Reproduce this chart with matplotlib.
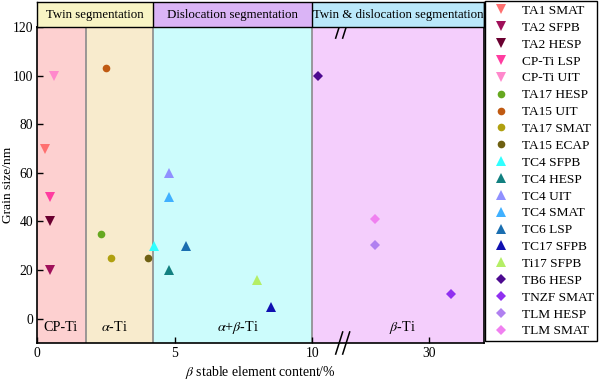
import numpy as np
import matplotlib
matplotlib.use("Agg")
import matplotlib.pyplot as plt
import matplotlib.transforms as mtransforms

plt.rcParams['font.family'] = ['Liberation Serif', 'DejaVu Serif']
plt.rcParams['mathtext.fontset'] = 'stix'
plt.rcParams['font.size'] = 9.3

# data: (label, marker, colour, x = beta stable element content %, y = grain size nm)
labels = ['TA1 SMAT', 'TA2 SFPB', 'TA2 HESP', 'CP-Ti LSP', 'CP-Ti UIT',
          'TA17 HESP', 'TA15 UIT', 'TA17 SMAT', 'TA15 ECAP',
          'TC4 SFPB', 'TC4 HESP', 'TC4 UIT', 'TC4 SMAT', 'TC6 LSP', 'TC17 SFPB', 'Ti17 SFPB',
          'TB6 HESP', 'TNZF SMAT', 'TLM HESP', 'TLM SMAT']
x_vals = [0.28, 0.46, 0.46, 0.46, 0.61,
          2.32, 2.49, 2.68, 4.01,
          4.25, 4.8, 4.8, 4.8, 5.41, 8.5, 8.0,
          11.0, 33.8, 20.7, 20.7]
y_vals = [70, 20, 40, 50, 100,
          35, 103, 25, 25,
          30, 20, 60, 50, 30, 5, 16,
          100, 10, 30.5, 41]
markers = ['v'] * 5 + ['o'] * 4 + ['^'] * 7 + ['D'] * 4
colors = ['#ff7070', '#a0105a', '#6a0030', '#ff3ca0', '#ff88cc',
          '#66a820', '#c05a12', '#b0a010', '#6e6012',
          '#30ffff', '#128080', '#9090ff', '#40b0ff', '#1a6eb0', '#1010b0', '#b4ee66',
          '#4c0a90', '#9030f0', '#b080f0', '#f080f0']

# background regions (x start, x end)
regions = [(0, 1.78), (1.78, 4.2), (4.2, 10), (10, 39.4)]
region_colors = ['#fdd0d0', '#f8ebcd', '#ccfcfc', '#f4cefc']
region_names = ['CP-Ti', r'$\alpha$-Ti', r'$\alpha$+$\beta$-Ti', r'$\beta$-Ti']
region_text_x = [0.85, 2.8, 7.3, 25.5]

header = [(0, 4.2), (4.2, 10), (10, 39.4)]
header_colors = ['#f8f4c4', '#dab4f6', '#bae8fa']
header_names = ['Twin segmentation', 'Dislocation segmentation', 'Twin & dislocation segmentation']

# broken x axis: compress everything above 10
k = 0.2124
def fwd(x):
    x = np.asarray(x, dtype=float)
    return np.where(x <= 10, x, 10 + (x - 10) * k)
def inv(x):
    x = np.asarray(x, dtype=float)
    return np.where(x <= 10, x, 10 + (x - 10) / k)

fig = plt.figure(figsize=(6, 3.81), dpi=100)
ax = fig.add_axes([0.0622, 0.0997, 0.7445, 0.8293])
ax.set_xscale('function', functions=(fwd, inv))
ax.set_xlim(0, 39.4)
ax.set_ylim(-10, 120)

for (a, b), c in zip(regions, region_colors):
    ax.axvspan(a, b, color=c, lw=0, zorder=0)
for (a, b) in regions[1:]:
    ax.axvline(a, color='#8a8a8a', lw=1.2, zorder=1)
for name, xt in zip(region_names, region_text_x):
    ax.text(xt, -3.5, name, ha='center', va='center', fontsize=10.2)

for lab, xv, yv, m, c in zip(labels, x_vals, y_vals, markers, colors):
    ms = {'D': 5, 'o': 5.5, 'v': 7, '^': 7}[m]
    ax.plot(xv, yv, linestyle='none', marker=m, color=c, markersize=ms,
            markeredgewidth=0, label=lab, zorder=3)

ax.set_xticks([0, 5, 10, 30])
ax.set_xticklabels(['0', '5', '10', '30'])
ax.set_yticks(range(0, 121, 20))
ax.tick_params(direction='in', length=4, width=1, pad=3, labelsize=9.8)
for s in ax.spines.values():
    s.set_linewidth(1.2)
ax.set_xlabel(r'$\beta$ stable element content/%', labelpad=3, fontsize=9.9)
ax.set_ylabel('Grain size/nm', fontsize=9.7)
ax.yaxis.set_label_coords(-0.053, 0.5)

# break marks on the x axis
trans = mtransforms.blended_transform_factory(ax.transData, ax.transAxes)
xb = 15.2
for yb in (0, 1):
    for dx in (-0.6, 0.6):
        ax.plot([xb + dx - 0.6, xb + dx + 0.6], [yb - 0.035, yb + 0.035],
                color='black', lw=1.1, transform=trans, clip_on=False, zorder=5)

# header band
hx = fig.add_axes([0.0622, 0.929, 0.7445, 0.0658], sharex=ax)
hx.set_ylim(0, 1)
for (a, b), c, name in zip(header, header_colors, header_names):
    hx.axvspan(a, b, color=c, lw=0)
    hx.axvline(b, color='black', lw=1)
    xc = float(inv((fwd(a) + fwd(b)) / 2))
    hx.text(xc, 0.5, name, ha='center', va='center')
hx.set_yticks([])
hx.tick_params(axis='x', which='both', bottom=False, labelbottom=False)
for s in hx.spines.values():
    s.set_linewidth(1)

fig.legend(loc='upper left', bbox_to_anchor=(0.806, 1.0), frameon=True, fancybox=False,
           edgecolor='black', framealpha=1, labelspacing=0.34, fontsize=9.6,
           handletextpad=0.6, borderpad=0.25, borderaxespad=0.1, handlelength=1.9)

fig.savefig('out.png', dpi=100)
